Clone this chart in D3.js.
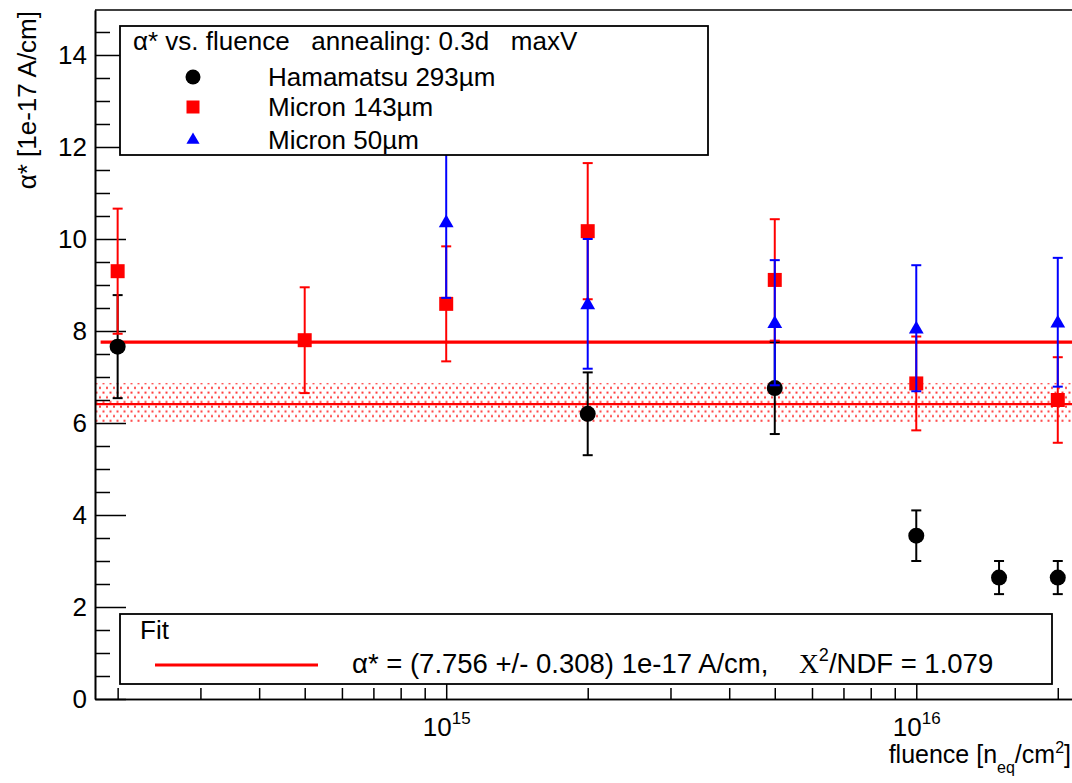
<!DOCTYPE html>
<html>
<head>
<meta charset="utf-8">
<script src="https://cdn.jsdelivr.net/npm/d3@7"></script>
<style>
  body { margin: 0; background: #fff; }
  svg { display: block; }
  text { font-family: "Liberation Sans", Arial, Helvetica, sans-serif; fill: #000; white-space: pre; }
</style>
</head>
<body>
<svg id="chart" width="1072" height="783"></svg>
<script>
// ---- measured alpha* values vs. fluence (1e-17 A/cm) ----
const hamFluence   = [2e14, 2e15, 5e15, 1e16, 1.5e16, 2e16];
const hamAlpha     = [7.66, 6.20, 6.76, 3.55, 2.64, 2.64];
const hamErr       = [1.12, 0.90, 1.00, 0.55, 0.36, 0.36];

const m143Fluence  = [2e14, 5e14, 1e15, 2e15, 5e15, 1e16, 2e16];
const m143Alpha    = [9.30, 7.80, 8.59, 10.17, 9.11, 6.86, 6.50];
const m143Err      = [1.36, 1.15, 1.25, 1.48, 1.32, 1.02, 0.93];

const m50Fluence   = [1e15, 2e15, 5e15, 1e16, 2e16];
const m50Alpha     = [10.37, 8.59, 8.18, 8.06, 8.19];
const m50Err       = [1.65, 1.41, 1.36, 1.37, 1.40];

// constant fit and reference level with its uncertainty band
const fitValue     = 7.756;
const fitError     = 0.308;
const fitChi2Ndf   = 1.079;
const fitFrom      = 1.84e14;
const refLevel     = 6.41;
const refBand      = [6.02, 6.87];

// axis settings
const xDomain      = [1.79e14, 2.23e16];
const yDomain      = [0, 14.978];
const yMajorTicks  = [0, 2, 4, 6, 8, 10, 12, 14];
const xMajorTicks  = [1e15, 1e16];
const xMajorExp    = ["15", "16"];

const legendHeader = "\u03b1* vs. fluence   annealing: 0.3d   maxV";
const seriesNames  = ["Hamamatsu 293\u00b5m", "Micron 143\u00b5m", "Micron 50\u00b5m"];

// ---- layout ----
const svg = d3.select("#chart");
const L = 95, R = 1080, T = 10, B = 699;
const FS = 26;

const x = d3.scaleLog().domain(xDomain).range([L, R]);
const y = d3.scaleLinear().domain(yDomain).range([B, T]);

const yMinor = d3.range(0, 15, 0.5).filter(v => v % 2 !== 0);
const xMinor = [];
[1e14, 1e15, 1e16].forEach(dec => {
  for (let k = 2; k <= 9; k++) {
    const v = k * dec;
    if (v > xDomain[0] && v < xDomain[1]) xMinor.push(v);
  }
});

// dotted fill for the band
const defs = svg.append("defs");
const pat = defs.append("pattern").attr("id", "dots")
  .attr("patternUnits", "userSpaceOnUse").attr("width", 7).attr("height", 9.4);
pat.append("rect").attr("x", 1).attr("y", 1.5).attr("width", 2).attr("height", 2).attr("fill", "#ff1a1a").attr("opacity", 0.85);
pat.append("rect").attr("x", 4.5).attr("y", 6.2).attr("width", 2).attr("height", 2).attr("fill", "#ff1a1a").attr("opacity", 0.85);

// band + reference line
svg.append("rect")
  .attr("x", L + 1).attr("y", y(refBand[1]))
  .attr("width", R - L).attr("height", y(refBand[0]) - y(refBand[1]))
  .attr("fill", "url(#dots)");
svg.append("line")
  .attr("x1", L + 1).attr("x2", R).attr("y1", y(refLevel)).attr("y2", y(refLevel))
  .attr("stroke", "#ff0000").attr("stroke-width", 2.2);

// fit line
svg.append("line")
  .attr("x1", x(fitFrom)).attr("x2", R).attr("y1", y(fitValue)).attr("y2", y(fitValue))
  .attr("stroke", "#ff0000").attr("stroke-width", 3.2);

// ---- axes (ticks point into the frame) ----
const gy = svg.append("g").attr("transform", `translate(${L},0)`);
gy.call(d3.axisLeft(y).tickValues(yMajorTicks).tickSizeInner(-31).tickSizeOuter(0).tickPadding(8).tickFormat(d3.format("d")));
const gyMinor = svg.append("g").attr("transform", `translate(${L},0)`);
gyMinor.call(d3.axisLeft(y).tickValues(yMinor).tickSizeInner(-15).tickSizeOuter(0).tickFormat(""));

const gx = svg.append("g").attr("transform", `translate(0,${B})`);
gx.call(d3.axisBottom(x).tickValues(xMajorTicks).tickSizeInner(-22).tickSizeOuter(0).tickFormat(""));
const gxMinor = svg.append("g").attr("transform", `translate(0,${B})`);
gxMinor.call(d3.axisBottom(x).tickValues(xMinor).tickSizeInner(-11).tickSizeOuter(0).tickFormat(""));

[gy, gyMinor, gx, gxMinor].forEach(g => {
  g.selectAll(".domain").attr("stroke", "#000").attr("stroke-width", 1.6);
  g.selectAll(".tick line").attr("stroke", "#000").attr("stroke-width", 1.5);
});
gy.selectAll(".tick text").attr("font-size", FS).attr("font-family", "Liberation Sans, Arial, sans-serif").attr("fill", "#000");

// x tick labels as powers of ten
gx.selectAll(".tick").each(function(d, i) {
  const t = d3.select(this).append("text")
    .attr("x", 0).attr("y", 37).attr("text-anchor", "middle").attr("fill", "#000")
    .attr("font-size", FS).attr("font-family", "Liberation Sans, Arial, sans-serif");
  t.append("tspan").text("10");
  t.append("tspan").attr("dy", -12).attr("font-size", 17).text(xMajorExp[i]);
});

// top frame edge
svg.append("line").attr("x1", L).attr("x2", R).attr("y1", T).attr("y2", T)
  .attr("stroke", "#000").attr("stroke-width", 1.6);

// axis titles
svg.append("text")
  .attr("transform", `translate(36,11) rotate(-90)`)
  .attr("text-anchor", "end").attr("font-size", FS)
  .text("\u03b1* [1e-17 A/cm]");

const xt = svg.append("text").attr("x", 1071).attr("y", 763).attr("text-anchor", "end").attr("font-size", 25);
xt.append("tspan").text("fluence [n");
xt.append("tspan").attr("dy", 10).attr("font-size", 16).text("eq");
xt.append("tspan").attr("dy", -10).text("/cm");
xt.append("tspan").attr("dy", -10).attr("font-size", 16).text("2");
xt.append("tspan").attr("dy", 10).text("]");

// ---- data series ----
function errorBars(fl, val, err, color) {
  const g = svg.append("g").attr("stroke", color).attr("stroke-width", 2);
  const pts = fl.map((f, i) => ({ f, v: val[i], e: err[i] }));
  g.selectAll("line.bar").data(pts).join("line")
    .attr("x1", d => x(d.f)).attr("x2", d => x(d.f))
    .attr("y1", d => y(d.v + d.e)).attr("y2", d => y(d.v - d.e));
  g.selectAll("line.top").data(pts).join("line")
    .attr("x1", d => x(d.f) - 5).attr("x2", d => x(d.f) + 5)
    .attr("y1", d => y(d.v + d.e)).attr("y2", d => y(d.v + d.e));
  g.selectAll("line.bot").data(pts).join("line")
    .attr("x1", d => x(d.f) - 5).attr("x2", d => x(d.f) + 5)
    .attr("y1", d => y(d.v - d.e)).attr("y2", d => y(d.v - d.e));
  return pts;
}

const circle   = d3.symbol().type(d3.symbolCircle).size(Math.PI * 8 * 8);
const square   = d3.symbol().type(d3.symbolSquare).size(14 * 14);
const triangle = d3.symbol().type(d3.symbolTriangle).size(95);

const hamPts = errorBars(hamFluence, hamAlpha, hamErr, "#000");
svg.append("g").selectAll("path").data(hamPts).join("path")
  .attr("d", circle).attr("fill", "#000")
  .attr("transform", d => `translate(${x(d.f)},${y(d.v)})`);

const m143Pts = errorBars(m143Fluence, m143Alpha, m143Err, "#ff0000");
svg.append("g").selectAll("path").data(m143Pts).join("path")
  .attr("d", square).attr("fill", "#ff0000")
  .attr("transform", d => `translate(${x(d.f)},${y(d.v)})`);

const m50Pts = errorBars(m50Fluence, m50Alpha, m50Err, "#0000ff");
svg.append("g").selectAll("path").data(m50Pts).join("path")
  .attr("d", triangle).attr("fill", "#0000ff")
  .attr("transform", d => `translate(${x(d.f)},${y(d.v) + 1})`);

// ---- legend ----
const lg = svg.append("g");
lg.append("rect").attr("x", 120).attr("y", 26).attr("width", 588).attr("height", 129)
  .attr("fill", "#fff").attr("stroke", "#000").attr("stroke-width", 1.8);
lg.append("text").attr("x", 133).attr("y", 50).attr("font-size", FS).text(legendHeader);
const legendRows = [77, 107, 140];
const legendSyms = [
  { sym: d3.symbol().type(d3.symbolCircle).size(Math.PI * 7.5 * 7.5), color: "#000" },
  { sym: d3.symbol().type(d3.symbolSquare).size(13 * 13), color: "#ff0000" },
  { sym: d3.symbol().type(d3.symbolTriangle).size(75), color: "#0000ff" }
];
seriesNames.forEach((name, i) => {
  const s = legendSyms[i];
  lg.append("path").attr("d", s.sym).attr("fill", s.color)
    .attr("transform", `translate(193,${legendRows[i]})`);
  lg.append("text").attr("x", 268).attr("y", legendRows[i]).attr("dy", "0.36em")
    .attr("font-size", FS).text(name);
});

// fit box
const fb = svg.append("g");
fb.append("rect").attr("x", 120).attr("y", 614).attr("width", 932).attr("height", 70)
  .attr("fill", "#fff").attr("stroke", "#000").attr("stroke-width", 1.8);
fb.append("text").attr("x", 140).attr("y", 639).attr("font-size", FS).text("Fit");
fb.append("line").attr("x1", 155).attr("x2", 318).attr("y1", 665).attr("y2", 665)
  .attr("stroke", "#ff0000").attr("stroke-width", 3.2);
const ft = fb.append("text").attr("x", 352).attr("y", 673).attr("font-size", 27.5);
ft.append("tspan").text(`\u03b1* = (${fitValue.toFixed(3)} +/- ${fitError.toFixed(3)}) 1e-17 A/cm,    `);
ft.append("tspan").attr("font-family", "Liberation Serif, Times New Roman, serif").text("X");
ft.append("tspan").attr("dy", -12).attr("font-size", 18).text("2");
ft.append("tspan").attr("dy", 12).text(`/NDF = ${fitChi2Ndf.toFixed(3)}`);
</script>
</body>
</html>
